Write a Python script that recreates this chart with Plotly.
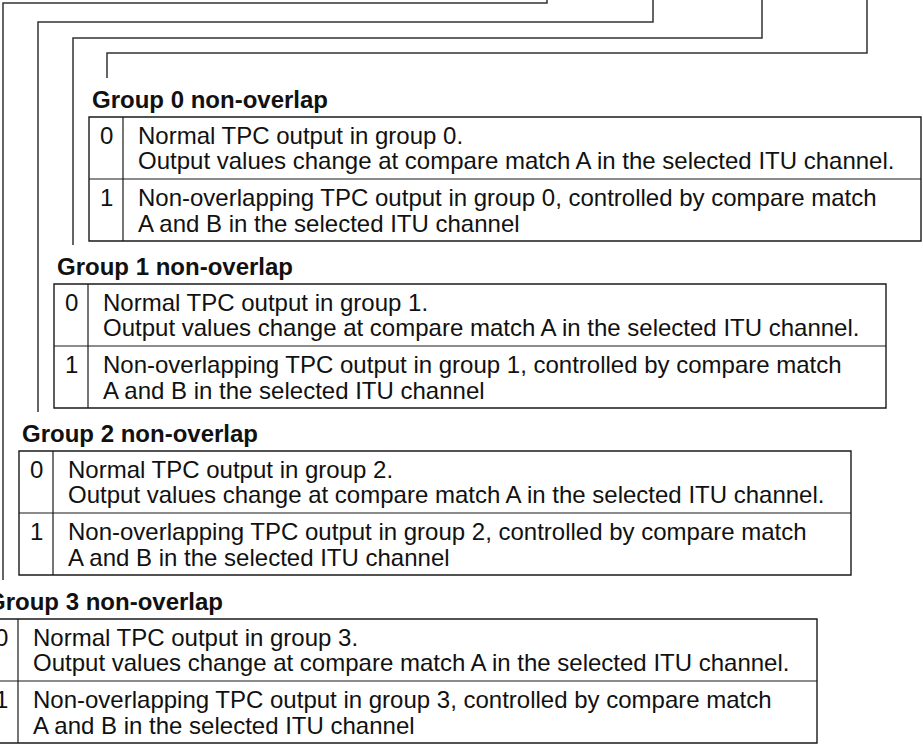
import plotly.graph_objects as go

# ---- content ----
group_titles = ["Group 0 non-overlap", "Group 1 non-overlap", "Group 2 non-overlap", "Group 3 non-overlap"]
bit_values = ["0", "1"]
row0_lines = ["Normal TPC output in group {g}.",
              "Output values change at compare match A in the selected ITU channel."]
row1_lines = ["Non-overlapping TPC output in group {g}, controlled by compare match",
              "A and B in the selected ITU channel"]

# ---- layout geometry (pixels) ----
W, H = 923, 744
table_left = [89, 54, 19, -16]
table_right = [921, 886, 851, 817]
table_top = [117, 284, 451, 619]
col_w = 34
row_h = 62
title_dx = 1
conn_x_left = [107, 73, 38, 3]
conn_y_top = [53, 38, 22, 3]
conn_x_right = [867, 762, 653, 547]
conn_y_end = [78, 245, 412, 580]

FONT = "Liberation Sans, Arial, Helvetica, sans-serif"
FS = 24
LINE = "#1a1a1a"

fig = go.Figure()
shapes = []
annotations = []


def add_text(x, y, text, bold=False, xanchor="left"):
    xs = 0
    if x < 0:
        xs = x
        x = 0
    annotations.append(dict(
        x=x, y=y, xref="x", yref="y", xshift=xs,
        text=("<b>%s</b>" % text) if bold else text,
        showarrow=False, xanchor=xanchor, yanchor="middle",
        font=dict(family=FONT, size=FS, color="#111111"),
    ))


for g in range(4):
    # connector
    path = "M %d,%d L %d,%d L %d,%d L %d,%d" % (
        conn_x_left[g], conn_y_end[g], conn_x_left[g], conn_y_top[g],
        conn_x_right[g], conn_y_top[g], conn_x_right[g], -10)
    shapes.append(dict(type="path", path=path, xref="x", yref="y",
                       line=dict(color="#333333", width=1.5)))
    L, R, T = table_left[g], table_right[g], table_top[g]
    M = T + row_h
    B = T + 2 * row_h
    C = L + col_w
    # table frame
    shapes.append(dict(type="rect", x0=L, x1=R, y0=T, y1=B, xref="x", yref="y",
                       line=dict(color=LINE, width=1.4)))
    shapes.append(dict(type="line", x0=L, x1=R, y0=M, y1=M, xref="x", yref="y",
                       line=dict(color=LINE, width=1.2)))
    shapes.append(dict(type="line", x0=C, x1=C, y0=T, y1=B, xref="x", yref="y",
                       line=dict(color=LINE, width=1.2)))
    # title
    add_text(L + title_dx, T - 18, group_titles[g], bold=True)
    # bit values
    add_text((L + C) / 2, T + 18, bit_values[0], xanchor="center")
    add_text((L + C) / 2, M + 18, bit_values[1], xanchor="center")
    # descriptions
    tx = C + 13
    add_text(tx, T + 18, row0_lines[0].format(g=g))
    add_text(tx, T + 43.5, row0_lines[1].format(g=g))
    add_text(tx, M + 18, row1_lines[0].format(g=g))
    add_text(tx, M + 44, row1_lines[1].format(g=g))

fig.update_layout(
    width=W, height=H,
    margin=dict(l=0, r=0, t=0, b=0),
    paper_bgcolor="white", plot_bgcolor="white",
    xaxis=dict(range=[0, W], visible=False, fixedrange=True),
    yaxis=dict(range=[H, 0], visible=False, fixedrange=True),
    shapes=shapes, annotations=annotations,
    showlegend=False,
)

fig.write_html(
    "out.html",
    config=dict(displayModeBar=False, staticPlot=True),
    post_script="document.body.style.margin='0';document.body.style.overflow='hidden';",
)
